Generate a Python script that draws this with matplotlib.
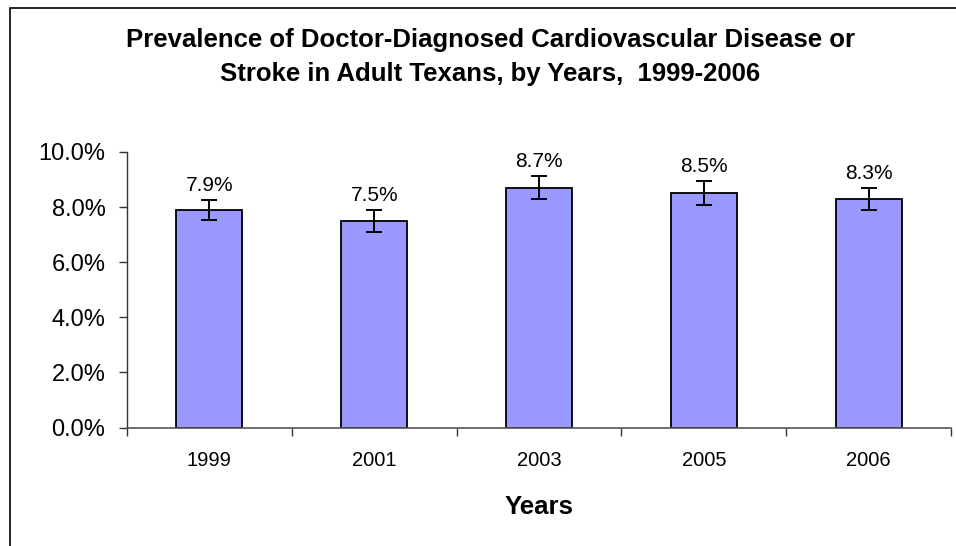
import matplotlib
matplotlib.use("Agg")
import matplotlib.pyplot as plt
from matplotlib.patches import Rectangle
from matplotlib.ticker import FuncFormatter, FixedLocator
import numpy as np

years = ["1999", "2001", "2003", "2005", "2006"]
prevalence = [7.9, 7.5, 8.7, 8.5, 8.3]
ci_half = [0.37, 0.40, 0.42, 0.43, 0.40]
value_labels = ["7.9%", "7.5%", "8.7%", "8.5%", "8.3%"]
yticks = [0, 2, 4, 6, 8, 10]

plt.rcParams['font.family'] = ['Liberation Sans', 'DejaVu Sans']

W, H = 956, 546
fig = plt.figure(figsize=(W / 100, H / 100), dpi=100)
fig.patch.set_facecolor("white")

# outer chart frame (cut at right and bottom)
fig.patches.append(Rectangle((9.5 / W, -0.2), 1.2, 1 - 8 / H + 0.2,
                             transform=fig.transFigure, fill=False,
                             edgecolor="black", linewidth=1.2))

ax = fig.add_axes([127 / W, 1 - 427.5 / H, (951 - 127) / W, (427.5 - 152) / H])
x = np.arange(len(years))
ax.bar(x, prevalence, width=0.4, color="#9999FF", edgecolor="black", linewidth=1.3, zorder=2)
ax.errorbar(x, prevalence, yerr=ci_half, fmt="none", ecolor="black",
            elinewidth=1.4, capsize=5.5, capthick=1.4, zorder=3)

for xi, v, e, lab in zip(x, prevalence, ci_half, value_labels):
    ax.annotate(lab, (xi, v + e), xytext=(0, 6.5), textcoords="offset points",
                ha="center", va="baseline", fontsize=15)

ax.set_xlim(-0.5, len(years) - 0.5)
ax.set_ylim(0, 10)
ax.set_yticks(yticks)
ax.yaxis.set_major_formatter(FuncFormatter(lambda v, p: f"{v:.1f}%"))
ax.set_xticks(x)
ax.set_xticklabels(years, fontsize=14.5)
ax.xaxis.set_minor_locator(FixedLocator(np.arange(-0.5, len(years), 1.0)))
ax.tick_params(axis="x", which="major", length=0, pad=17)
ax.tick_params(axis="x", which="minor", length=6, width=1, direction="out", color="#333333")
ax.tick_params(axis="y", length=5.5, width=1, direction="out", pad=10, labelsize=17, color="#333333")

for s in ["top", "right"]:
    ax.spines[s].set_visible(False)
ax.spines["left"].set_color("#333333")
ax.spines["bottom"].set_color("#555555")
ax.spines["left"].set_linewidth(1)
ax.spines["bottom"].set_linewidth(1.2)

ax.set_xlabel("Years", fontsize=18.5, fontweight="bold", labelpad=18)

fig.text(490 / W, 1 - 40 / H, "Prevalence of Doctor-Diagnosed Cardiovascular Disease or",
         ha="center", va="center", fontsize=18.5, fontweight="bold")
fig.text(490 / W, 1 - 74 / H, "Stroke in Adult Texans, by Years,  1999-2006",
         ha="center", va="center", fontsize=18.5, fontweight="bold")

fig.savefig("out.png", dpi=100)
